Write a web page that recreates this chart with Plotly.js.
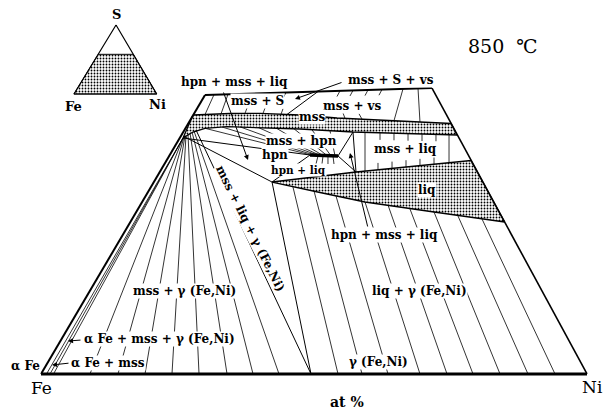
<!DOCTYPE html>
<html>
<head>
<meta charset="utf-8">
<script src="https://cdn.plot.ly/plotly-3.0.1.min.js"></script>
<style>
  html, body { margin: 0; padding: 0; background: #fff; }
  #chart { width: 603px; height: 411px; }
</style>
</head>
<body>
<div id="chart"></div>
<script>
// Fe-Ni-S isothermal section at 850 C (S-poor part of the triangle)
// x = at% along the Fe -> Ni edge, y = height in the same units
// segments are [x0, y0, x1, y1]

// outer frame
const baseEdge  = [[0, 0, 100, 0]];
const leftEdge  = [[0, 0, 30.04, 51.10]];
const topEdge   = [[30.04, 51.10, 71.61, 52.38]];
const rightEdge = [[71.61, 52.38, 100, 0]];

// mss band (stippled)
const mssBandX = [27.84, 34.62, 40.11, 47.44, 54.21, 65.75, 75.09, 76.19, 65.75, 57.14, 47.44, 40.11, 34.07, 30.04, 27.84, 26.01, 27.84];
const mssBandY = [47.44, 47.71, 47.75, 47.44, 46.89, 46.34, 45.88, 43.77, 44.05, 44.32, 44.87, 45.15, 45.29, 45.00, 44.32, 43.22, 47.44];

// liquid field (stippled)
const liqX = [42.31, 57.69, 78.75, 84.91, 71.98, 59.34, 51.10, 42.31];
const liqY = [35.16, 37.00, 39.10, 27.84, 29.67, 31.50, 33.24, 35.16];

// heazlewoodite (hpn) composition range
const hpnLine = [[49.27, 40.11, 54.40, 39.93]];

// three-phase triangle sides
const triangleSides = [
  [26.01, 43.22, 49.27, 40.11],
  [26.37, 43.41, 42.31, 35.16],
  [49.27, 40.11, 42.31, 35.16],
  [54.40, 39.93, 57.14, 44.32],
  [57.14, 44.32, 57.69, 37.00],
  [54.40, 39.93, 57.69, 37.00],
  [50.73, 51.74, 45.05, 47.53],
  [42.31, 35.16, 49.45, 0],
  [28.39, 44.69, 49.45, 0]
];

// tie lines
const mssSTies = [
  [31.68, 51.15, 30.04, 47.53],
  [34.25, 51.23, 32.97, 47.64],
  [38.28, 51.35, 37.73, 50.27],
  [41.58, 51.45, 41.03, 50.37],
  [44.87, 51.56, 44.32, 50.48],
  [37.36, 47.73, 37.73, 48.72],
  [40.66, 47.73, 41.03, 48.72],
  [43.96, 47.58, 44.32, 48.57]
];
const mssVsTies = [
  [54.76, 51.86, 54.21, 50.82],
  [57.14, 51.93, 56.59, 50.92],
  [59.89, 52.02, 59.34, 50.99],
  [62.45, 52.10, 61.90, 51.06],
  [66.30, 52.22, 64.65, 46.39],
  [69.05, 52.30, 69.41, 46.15],
  [55.68, 46.81, 55.31, 47.80],
  [58.79, 46.67, 58.24, 47.66]
];
const mssHpnTies = [
  [30.04, 45.00, 49.45, 40.11],
  [33.15, 45.24, 50.00, 40.11],
  [36.45, 45.27, 50.55, 40.11],
  [39.74, 45.18, 51.10, 40.05],
  [43.04, 45.05, 51.65, 40.02],
  [46.34, 44.91, 52.38, 40.00],
  [49.63, 44.72, 53.11, 39.96],
  [52.93, 44.54, 53.85, 39.93]
];
const hpnLiqTies = [
  [50.73, 39.93, 50.37, 38.46],
  [51.65, 39.93, 51.46, 38.46],
  [52.56, 39.93, 52.56, 38.46],
  [53.48, 39.93, 53.66, 38.46]
];
const mssLiqTies = [
  [59.34, 44.25, 59.34, 37.16],
  [74.73, 43.81, 74.73, 38.68],
  [62.09, 44.16, 62.09, 42.88],
  [64.65, 44.08, 64.65, 42.80],
  [67.22, 44.01, 67.22, 42.73],
  [69.78, 43.93, 69.78, 42.66],
  [72.34, 43.86, 72.34, 42.58],
  [61.72, 37.38, 61.72, 38.66],
  [64.29, 37.62, 64.29, 38.90],
  [66.85, 37.88, 66.85, 39.16],
  [69.41, 38.11, 69.41, 39.40],
  [71.98, 38.37, 71.98, 39.65]
];
const mssGammaTies = [
  [26.01, 43.22, 1.01, 0],
  [26.01, 43.22, 1.65, 0],
  [26.01, 43.22, 2.29, 0],
  [26.01, 43.22, 8.97, 0],
  [26.19, 43.41, 14.10, 0],
  [26.37, 43.59, 19.05, 0],
  [26.56, 43.77, 23.99, 0],
  [26.92, 43.96, 28.94, 0],
  [27.29, 44.14, 34.07, 0],
  [27.66, 44.32, 38.83, 0],
  [28.02, 44.50, 43.59, 0]
];
const liqGammaTies = [
  [46.15, 34.25, 54.40, 0],
  [50.00, 33.52, 58.79, 0],
  [54.03, 32.60, 63.55, 0],
  [59.34, 31.50, 69.41, 0],
  [63.55, 30.95, 74.36, 0],
  [67.58, 30.22, 79.12, 0],
  [71.98, 29.67, 84.07, 0],
  [76.37, 28.94, 89.19, 0],
  [80.77, 28.39, 94.14, 0]
];

// phase field names
const regionNames = ['hpn + mss + liq', 'mss + S + vs', 'mss + S', 'mss + vs', 'mss', 'mss + hpn', 'hpn',
  'hpn + liq', 'mss + liq', 'liq', 'hpn + mss + liq', 'liq + γ (Fe,Ni)', 'γ (Fe,Ni)', 'mss + γ (Fe,Ni)',
  'α Fe + mss + γ (Fe,Ni)', 'α Fe + mss', 'α Fe'];
const regionX = [35.35, 64.10, 39.56, 56.96, 49.63, 47.62, 42.86, 47.25, 66.67, 70.70, 62.82, 69.23, 61.90, 26.37, 21.79, 12.27, -2.93];
const regionY = [53.48, 53.85, 49.91, 49.08, 46.98, 42.67, 40.02, 37.36, 41.30, 33.79, 25.46, 15.20, 2.11, 15.11, 6.50, 2.01, 1.47];

// leader arrows: tail -> head
const arrowTail = [[33.33, 51.83], [55.31, 53.48], [59.89, 26.74], [7.51, 6.23], [5.31, 2.01]];
const arrowHead = [[37.91, 39.19], [46.52, 50.37], [56.59, 40.48], [4.95, 6.04], [2.01, 1.65]];

// small key triangle
const keyTriX = [13.74, 6.04, 21.19, 13.74];
const keyTriY = [63.92, 51.28, 51.28, 63.92];
const keyShadeX = [10.48, 16.90, 21.19, 6.04, 10.48];
const keyShadeY = [58.55, 58.55, 51.28, 51.28, 58.55];
const keyNames = ['S', 'Fe', 'Ni'];
const keyX = [13.74, 6.04, 21.34];
const keyY = [65.93, 49.08, 49.36];

const cornerNames = ['Fe', 'Ni'];
const cornerX = [0.18, 100.92];
const cornerY = [-2.56, -2.47];

function lineTrace(list, width) {
  const x = [], y = [];
  list.forEach(s => { x.push(s[0], s[2], null); y.push(s[1], s[3], null); });
  return { x, y, mode: 'lines', line: { color: '#000', width: width }, hoverinfo: 'skip', showlegend: false };
}

function stippleTrace(x, y, width) {
  return {
    x, y, mode: 'lines', fill: 'toself', line: { color: '#000', width: width },
    fillcolor: '#fff',
    fillpattern: { shape: '.', size: 3, solidity: 0.3, fgcolor: '#000', bgcolor: '#fff' },
    hoverinfo: 'skip', showlegend: false
  };
}

const data = [
  stippleTrace(mssBandX, mssBandY, 1.3),
  stippleTrace(liqX, liqY, 1.3),
  stippleTrace(keyShadeX, keyShadeY, 1),
  lineTrace(mssSTies, 0.8),
  lineTrace(mssVsTies, 0.8),
  lineTrace(mssHpnTies, 0.8),
  lineTrace(hpnLiqTies, 0.8),
  lineTrace(mssLiqTies, 0.8),
  lineTrace(mssGammaTies, 0.8),
  lineTrace(liqGammaTies, 0.8),
  lineTrace(triangleSides, 1),
  lineTrace(hpnLine, 3.5),
  lineTrace(baseEdge, 3),
  lineTrace(leftEdge, 2),
  lineTrace(topEdge, 2),
  lineTrace(rightEdge, 1.6),
  { x: keyTriX, y: keyTriY, mode: 'lines', line: { color: '#000', width: 1.2 }, hoverinfo: 'skip', showlegend: false }
];

const labelFont = { family: 'DejaVu Serif', size: 12, color: '#000' };
const annotations = [];

regionNames.forEach((name, i) => {
  annotations.push({
    x: regionX[i], y: regionY[i], text: '<b>' + name + '</b>', showarrow: false,
    font: Object.assign({}, labelFont, name === 'hpn + liq' ? { size: 10.5 } : {}),
    bgcolor: '#fff', borderpad: 0
  });
});

annotations.push({
  x: 38.28, y: 26.74, text: '<b>mss + liq + γ (Fe,Ni)</b>', textangle: 63.5, showarrow: false,
  font: labelFont, bgcolor: '#fff', borderpad: 0
});

arrowTail.forEach((t, i) => {
  annotations.push({
    x: arrowHead[i][0], y: arrowHead[i][1], ax: t[0], ay: t[1], axref: 'x', ayref: 'y',
    text: '', showarrow: true, arrowhead: 2, arrowsize: 1, arrowwidth: 1, arrowcolor: '#000', standoff: 0
  });
});

keyNames.forEach((name, i) => {
  annotations.push({
    x: keyX[i], y: keyY[i], text: '<b>' + name + '</b>', showarrow: false,
    font: { family: 'DejaVu Serif', size: 13, color: '#000' }
  });
});

cornerNames.forEach((name, i) => {
  annotations.push({
    x: cornerX[i], y: cornerY[i], text: name, showarrow: false,
    font: { family: 'DejaVu Serif', size: 17, color: '#000' }
  });
});

annotations.push({
  x: 56.04, y: -5.13, text: '<b>at %</b>', showarrow: false,
  font: { family: 'DejaVu Serif', size: 14, color: '#000' }
});

annotations.push({
  x: 84.62, y: 60.07, text: '850  ℃', showarrow: false,
  font: { family: 'DejaVu Serif', size: 19, color: '#000' }
});

const layout = {
  width: 603,
  height: 411,
  margin: { l: 0, r: 0, t: 0, b: 0 },
  paper_bgcolor: '#fff',
  plot_bgcolor: '#fff',
  showlegend: false,
  xaxis: { range: [-7.51, 102.93], visible: false, fixedrange: true },
  yaxis: { range: [-6.78, 68.50], visible: false, fixedrange: true },
  annotations: annotations
};

Plotly.newPlot('chart', data, layout, { displayModeBar: false, staticPlot: true });
</script>
</body>
</html>
